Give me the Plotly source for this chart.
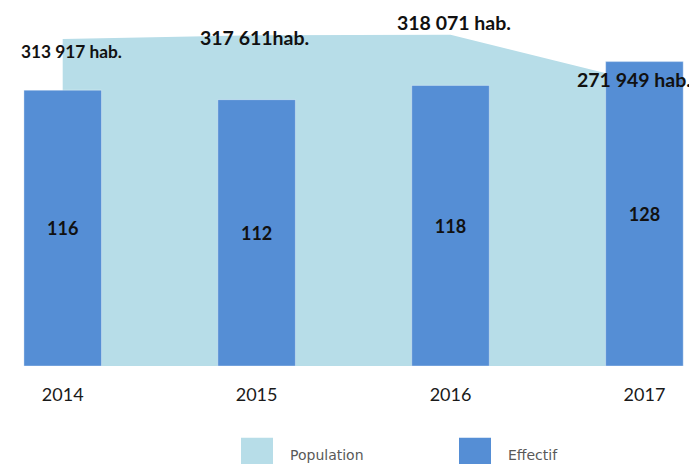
import plotly.graph_objects as go

# ---- data ----
years = [2014, 2015, 2016, 2017]
population = [313917, 317611, 318071, 271949]
population_labels = ["313 917 hab.", "317 611hab.", "318 071 hab.", "271 949 hab."]
effectif = [116, 112, 118, 128]
series_names = ["Population", "Effectif"]

# ---- style ----
AREA_COLOR = "#b7dde8"
BAR_COLOR = "#558ed5"
FONT = "Lato, 'Open Sans', sans-serif"
label_shift = [(9, -12, 17.3), (-2, -2, 19.5), (3, 12, 19.5), (-10, 3, 19.5)]  # xshift, yshift, size

fig = go.Figure()

fig.add_trace(go.Scatter(
    x=years, y=population, mode="lines", line=dict(width=0, color=AREA_COLOR),
    fill="tozeroy", fillcolor=AREA_COLOR, name=series_names[0], yaxis="y",
    showlegend=False, hoverinfo="skip"))

fig.add_trace(go.Bar(
    x=years, y=effectif, width=0.4, name=series_names[1], yaxis="y2",
    marker=dict(color=BAR_COLOR, line=dict(color="rgba(255,255,255,0.35)", width=1)),
    text=[str(v) for v in effectif], textposition="inside", insidetextanchor="middle",
    textfont=dict(family=FONT, size=18, color="#111111", weight="bold"),
    showlegend=False))

annotations = []
for yr, pop, lab, (dx, dy, sz) in zip(years, population, population_labels, label_shift):
    annotations.append(dict(
        x=yr, y=pop, xref="x", yref="y", text=lab, showarrow=False,
        xshift=dx, yshift=dy, font=dict(family=FONT, size=sz, color="#111111", weight="bold")))

# manual legend (figure pixel coords)
legend_items = [(series_names[0], AREA_COLOR, 233), (series_names[1], BAR_COLOR, 451)]
shapes = []
W, PH = 689, 358
for name, col, px in legend_items:
    shapes.append(dict(type="rect", xref="paper", yref="paper",
                       x0=px / W, x1=(px + 32) / W,
                       y0=(PH - 462) / PH, y1=(PH - 429.7) / PH,
                       fillcolor=col, line=dict(width=0)))
    annotations.append(dict(
        x=(px + 47) / W, y=(PH - 447) / PH, xref="paper", yref="paper",
        xanchor="left", yanchor="middle", text=name, showarrow=False,
        font=dict(family="DejaVu Sans", size=14, color="#595959")))

fig.update_layout(
    width=689, height=456,
    margin=dict(l=0, r=0, t=0, b=98),
    paper_bgcolor="white", plot_bgcolor="white",
    xaxis=dict(range=[2013.7179, 2017.2711], tickvals=years, ticktext=[str(y) for y in years],
               showgrid=False, zeroline=False, showline=False, ticks="",
               ticklabelstandoff=16,
               tickfont=dict(family=FONT, size=18, color="#1a1a1a")),
    yaxis=dict(range=[0, 343700], showgrid=False, zeroline=False, showticklabels=False,
               showline=False),
    yaxis2=dict(range=[0, 150.55], overlaying="y", showgrid=False, zeroline=False,
                showticklabels=False, showline=False),
    annotations=annotations, shapes=shapes, showlegend=False,
)

fig.write_html("out.html")
